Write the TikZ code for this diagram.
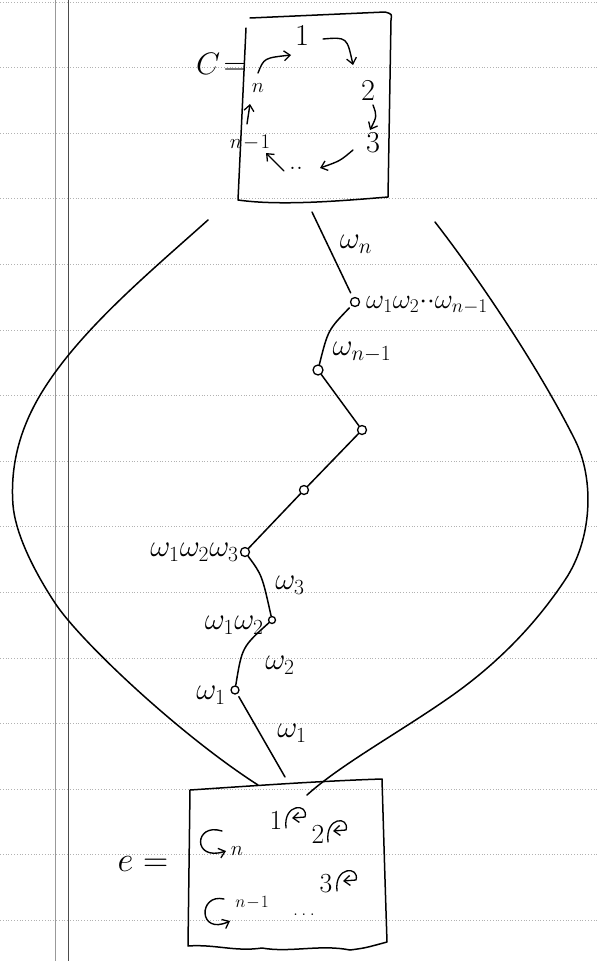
\documentclass[tikz,border=0pt]{standalone}
\usetikzlibrary{arrows.meta}
\begin{document}
\begin{tikzpicture}[x=1pt,y=-1pt,
  ink/.style={line width=1.5pt, line cap=round, line join=round},
  vtx/.style={circle, draw, line width=1.3pt, inner sep=0pt, minimum size=8pt},
  lbl/.style={inner sep=0pt, font=\fontsize{24}{28}\selectfont, scale=1.25},
  big/.style={inner sep=0pt, font=\fontsize{24}{28}\selectfont, scale=1.4},
  small/.style={inner sep=0pt, font=\fontsize{24}{28}\selectfont, scale=1.15},
  tiny/.style={inner sep=0pt, font=\fontsize{20}{24}\selectfont},
  rule/.style={black!30, dotted, line width=0.8pt},
  tip/.style={-{Straight Barb[length=6pt,width=10pt,line width=1.3pt]}}
]
\useasboundingbox (0,0) rectangle (597,961);

% ruled paper
\foreach \k in {0,...,14}
  \draw[rule] (0,{2+65.6*\k}) -- (597,{2+65.6*\k});
\draw[black!40, line width=1pt] (55,0) -- (55,961);
\draw[black!70, line width=1pt] (68,0) -- (68,961);

% top box: the cycle C
\draw[ink] (246,28) -- (238,200) .. controls (280,206) and (340,201) .. (388,197)
  -- (391,20) .. controls (392,14) .. (385,12) -- (250,18);
\node[lbl] (clbl) at (221,64) {$C\!=$};
\node[small, scale=1.1] (c1) at (302,35) {1};
\node[small, scale=1.1] (c2) at (368,90) {2};
\node[small, scale=1.1] (c3) at (373,143) {3};
\node[small] (cdots) at (296,168) {..};
\node[tiny] (cn) at (258,88) {$n$};
\node[tiny] (cn1) at (250,143) {$n\!-\!1$};
\draw[ink, line width=1.4pt, tip] (323,39) .. controls (347,37) .. (353,65);
\draw[ink, line width=1.4pt, tip] (373,105) .. controls (377,116) .. (370,130);
\draw[ink, line width=1.4pt, tip] (353,150) .. controls (340,161) .. (320,168);
\draw[ink, line width=1.4pt, tip] (284,171) -- (266,153);
\draw[ink, line width=1.4pt, tip] (247,124) -- (250,104);
\draw[ink, line width=1.4pt, tip] (258,73) .. controls (264,58) .. (291,55);

% bottom box: the identity e
\draw[ink] (190,790) -- (188,946)
  .. controls (215,944) and (235,952) .. (262,948)
  .. controls (290,953) and (320,944) .. (350,950)
  .. controls (365,948) .. (387,942)
  .. controls (385,880) .. (382,779)
  .. controls (320,781) and (250,786) .. (190,790);
\node[big] (elbl) at (143,864) {$e=$};
% rotations inside e
\draw[ink, line width=1.4pt, tip] (222,831) .. controls (194,822) and (192,862) .. (226,851);
\node[tiny] (rn) at (237,851) {$n$};
\draw[ink, line width=1.4pt, tip] (224,899) .. controls (198,893) and (198,936) .. (230,921);
\node[tiny, font=\fontsize{17}{20}\selectfont] (rn1) at (252,903) {$n\!-\!1$};
\node[small] (e1) at (276,820) {1};
\draw[ink, line width=1.3pt, tip] (286,828) .. controls (283,803) and (309,803) .. (305,817) -- (292,818);
\node[small] (e2) at (318,834) {2};
\draw[ink, line width=1.3pt, tip] (328,842) .. controls (325,816) and (350,816) .. (346,830) -- (333,831);
\node[small] (e3) at (326,884) {3};
\draw[ink, line width=1.3pt, tip] (337,891) .. controls (334,866) and (360,866) .. (356,880) -- (343,881);
\node[tiny] (edots) at (304,915) {.\,.\,.};

% the two outer arcs from C to e
\coordinate (lt) at (208,220);
\coordinate (lb) at (258,785);
\coordinate (rt) at (435,222);
\coordinate (rb) at (307,795);
\draw[ink] (lt) .. controls (150,272) and (80,330) .. (42,392)
  .. controls (20,428) and (10,465) .. (13,505)
  .. controls (15,530) and (30,565) .. (55,603)
  .. controls (80,641) and (180,735) .. (lb);
\draw[ink] (rt) .. controls (480,280) and (540,370) .. (575,440)
  .. controls (595,480) and (592,540) .. (565,580)
  .. controls (545,610) and (510,655) .. (450,697)
  .. controls (400,732) and (340,765) .. (rb);

% the path of words from e up to C
\coordinate (tn) at (312,212);
\coordinate (bt) at (285,777);
\node[vtx, minimum size=9pt] (a) at (355,302) {};
\node[vtx, minimum size=10pt] (b) at (318,370) {};
\node[vtx, minimum size=9pt] (c) at (362,430) {};
\node[vtx, minimum size=9pt] (d) at (304,490) {};
\node[vtx, minimum size=9pt] (e) at (245,552) {};
\node[vtx, minimum size=7pt] (f) at (272,620) {};
\node[vtx, minimum size=8pt] (g) at (235,690) {};

\draw[ink, shorten >=5pt] (tn) -- (a);
\draw[ink, shorten <=3pt] (a) .. controls (328,330) .. (b);
\draw[ink] (b) -- (c);
\draw[ink] (c) -- (d);
\draw[ink] (d) -- (e);
\draw[ink] (e) .. controls (262,575) .. (f);
\draw[ink] (f) .. controls (242,647) .. (g);
\draw[ink, shorten <=3pt] (g) -- (bt);

% edge and vertex labels
\node[lbl] (ln) at (356,244) {$\omega_n$};
\node[lbl, anchor=west, scale=0.9] (la) at (366,305) {$\omega_1\omega_2{\cdot\cdot}\omega_{n-1}$};
\node[lbl] (lb1) at (362,352) {$\omega_{n-1}$};
\node[lbl, anchor=east] (le) at (239,552) {$\omega_1\omega_2\omega_3$};
\node[lbl] (lw3) at (290,585) {$\omega_3$};
\node[lbl, anchor=east] (lf) at (264,625) {$\omega_1\omega_2$};
\node[lbl] (lw2) at (280,665) {$\omega_2$};
\node[lbl, anchor=east] (lg) at (226,695) {$\omega_1$};
\node[lbl] (lw1) at (292,733) {$\omega_1$};
\end{tikzpicture}
\end{document}
